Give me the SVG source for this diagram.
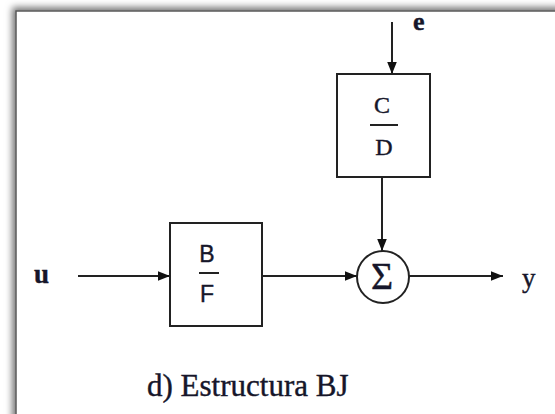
<svg xmlns="http://www.w3.org/2000/svg" width="555" height="414" viewBox="0 0 555 414">
<defs>
<filter id="sh" x="-10%" y="-10%" width="120%" height="120%">
<feDropShadow dx="-3" dy="-3" stdDeviation="3.5" flood-color="#000" flood-opacity="0.55"/>
</filter>
<marker id="ah" viewBox="0 0 10 8" refX="10" refY="4" markerWidth="12" markerHeight="10" markerUnits="userSpaceOnUse" orient="auto">
<path d="M0,0 L10,4 L0,8 z" fill="#111"/>
</marker>
<style>
.blk{fill:#fff;stroke:#222;stroke-width:2}
.ln{stroke:#222;stroke-width:2;fill:none}
.serif{font-family:"Liberation Serif","Times New Roman",serif;fill:#16162a;stroke:#16162a;stroke-width:0.4}
.sans{font-family:"Liberation Sans",Arial,sans-serif;fill:#16162a;stroke:#16162a;stroke-width:0.4}
</style>
</defs>
<rect width="555" height="414" fill="#fff"/>
<rect x="16" y="11" width="600" height="460" fill="#fff" stroke="#5a5a5a" stroke-width="1.5" filter="url(#sh)"/>
<g id="connectors">
<line class="ln" x1="392" y1="22" x2="392" y2="74" marker-end="url(#ah)"/>
<line class="ln" x1="382" y1="177" x2="382" y2="251" marker-end="url(#ah)"/>
<line class="ln" x1="78" y1="276" x2="170" y2="276" marker-end="url(#ah)"/>
<line class="ln" x1="262" y1="276" x2="357" y2="276" marker-end="url(#ah)"/>
<line class="ln" x1="409" y1="276" x2="503" y2="276" marker-end="url(#ah)"/>
</g>
<g id="block-BF">
<rect class="blk" x="170" y="223" width="92" height="103"/>
<text class="sans" x="207" y="262" font-size="23" text-anchor="middle">B</text>
<line x1="199" y1="273" x2="219" y2="273" stroke="#222" stroke-width="2"/>
<text class="sans" x="207" y="302" font-size="23" text-anchor="middle">F</text>
</g>
<g id="block-CD">
<rect class="blk" x="337" y="74" width="93" height="103"/>
<text class="serif" x="382" y="113" font-size="24" text-anchor="middle">C</text>
<line x1="370" y1="125" x2="398" y2="125" stroke="#222" stroke-width="2"/>
<text class="serif" x="384" y="155" font-size="24" text-anchor="middle">D</text>
</g>
<g id="sum">
<circle cx="383" cy="277" r="26" fill="#fff" stroke="#222" stroke-width="2"/>
<text class="serif" x="382" y="289" font-size="38" text-anchor="middle">Σ</text>
</g>
<g id="label-u"><text class="serif" x="34" y="283" font-size="27" font-weight="bold">u</text></g>
<g id="label-e"><text class="serif" x="413" y="30" font-size="26" font-weight="bold">e</text></g>
<g id="label-y"><text class="serif" x="522" y="287" font-size="27">y</text></g>
<g id="caption"><text class="serif" x="147" y="396" font-size="31">d) Estructura BJ</text></g>
</svg>
